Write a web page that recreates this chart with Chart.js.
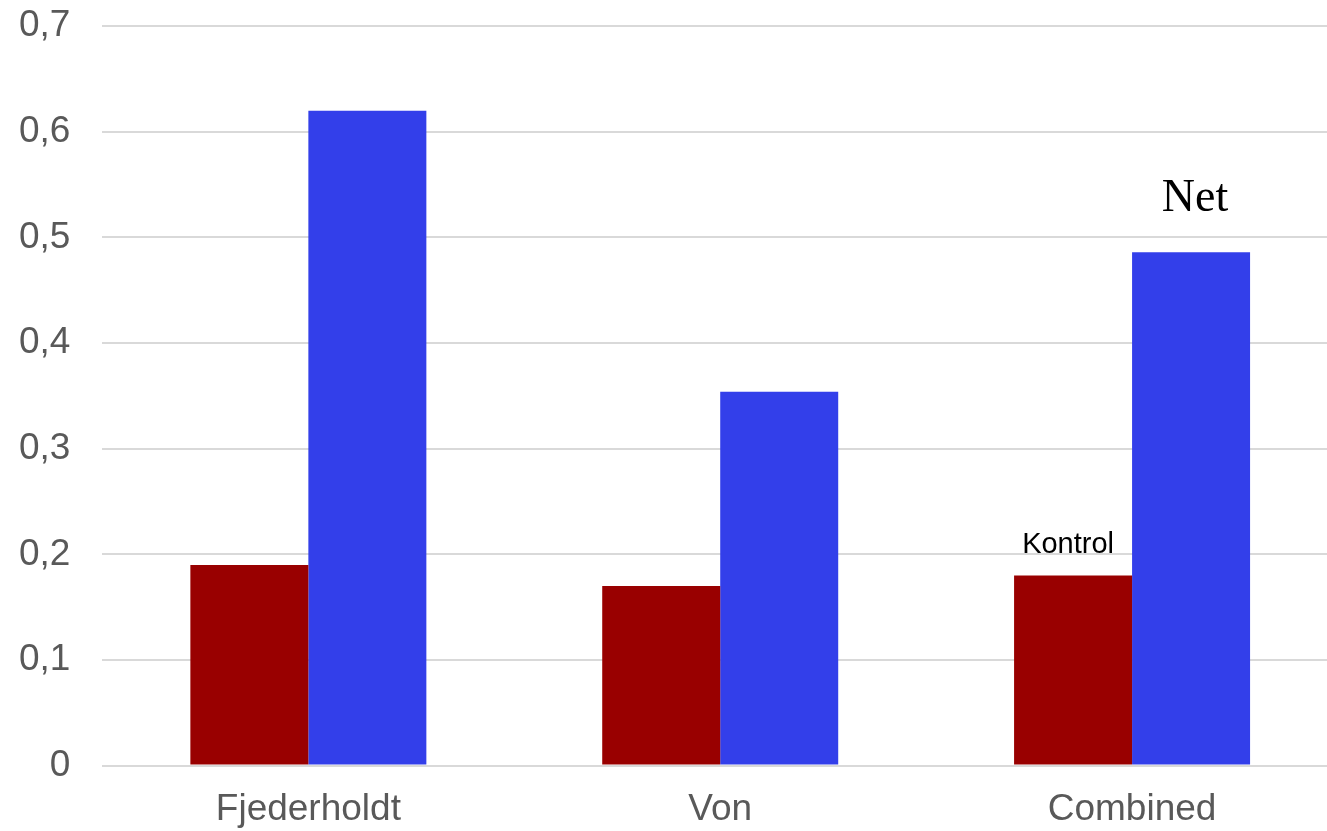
<!DOCTYPE html>
<html>
<head>
<meta charset="utf-8">
<script src="https://cdn.jsdelivr.net/npm/chart.js@4/dist/chart.umd.min.js"></script>
<style>
  html, body { margin: 0; padding: 0; background: #fff; overflow: hidden; }
  #wrap { position: relative; width: 1327px; height: 831px; overflow: hidden; }
  #barChart { position: absolute; left: -13px; top: -28px; }
</style>
</head>
<body>
<div id="wrap"><canvas id="barChart" width="1353" height="882"></canvas></div>
<script>
// 分类
const categories = ["Fjederholdt", "Von", "Combined"];
// 系列名
const seriesNames = ["Kontrol", "Net"];
// 数值
const kontrolValues = [0.19, 0.17, 0.18];
const netValues = [0.62, 0.354, 0.486];
// Y轴刻度
const yTicks = [0, 0.1, 0.2, 0.3, 0.4, 0.5, 0.6, 0.7];

// 柱子上方的标注(只在 Combined 上)
const labelCategory = 2;

const labelPlugin = {
  id: "seriesLabels",
  afterDatasetsDraw(chart) {
    const ctx = chart.ctx;
    ctx.save();
    ctx.fillStyle = "#000";
    ctx.textAlign = "center";
    ctx.textBaseline = "alphabetic";
    // Kontrol
    let bar = chart.getDatasetMeta(0).data[labelCategory];
    ctx.font = "29px 'Liberation Sans', Arial, sans-serif";
    ctx.fillText(seriesNames[0], bar.x - 5, bar.y - 22);
    // Net
    bar = chart.getDatasetMeta(1).data[labelCategory];
    ctx.font = "46px 'Liberation Serif', 'Times New Roman', serif";
    ctx.fillText(seriesNames[1], bar.x + 4, bar.y - 41);
    ctx.restore();
  }
};

const ctxBar = document.getElementById("barChart").getContext("2d");
const barChart = new Chart(ctxBar, {
  type: "bar",
  data: {
    labels: categories,
    datasets: [
      {
        label: seriesNames[0],
        data: kontrolValues,
        backgroundColor: "#990000",
        barPercentage: 1,
        categoryPercentage: 0.573
      },
      {
        label: seriesNames[1],
        data: netValues,
        backgroundColor: "#333FEA",
        barPercentage: 1,
        categoryPercentage: 0.573
      }
    ]
  },
  options: {
    responsive: false,
    animation: false,
    layout: { padding: { top: 0, right: 2, bottom: 0, left: 0 } },
    plugins: {
      legend: { display: false },
      tooltip: { enabled: false }
    },
    scales: {
      x: {
        grid: { display: false, drawTicks: false },
        border: { display: false },
        ticks: {
          color: "#595959",
          padding: 22,
          font: { family: "'Liberation Sans', Arial, sans-serif", size: 37 }
        }
      },
      y: {
        min: 0,
        max: 0.7,
        afterBuildTicks(axis) {
          axis.ticks = yTicks.map(v => ({ value: v }));
        },
        grid: { color: "#d9d9d9", lineWidth: 2, drawTicks: false },
        border: { display: false },
        ticks: {
          color: "#595959",
          padding: 32,
          font: { family: "'Liberation Sans', Arial, sans-serif", size: 37 },
          callback: v => v === 0 ? "0" : v.toFixed(1).replace(".", ",")
        }
      }
    }
  },
  plugins: [labelPlugin]
});
</script>
</body>
</html>
